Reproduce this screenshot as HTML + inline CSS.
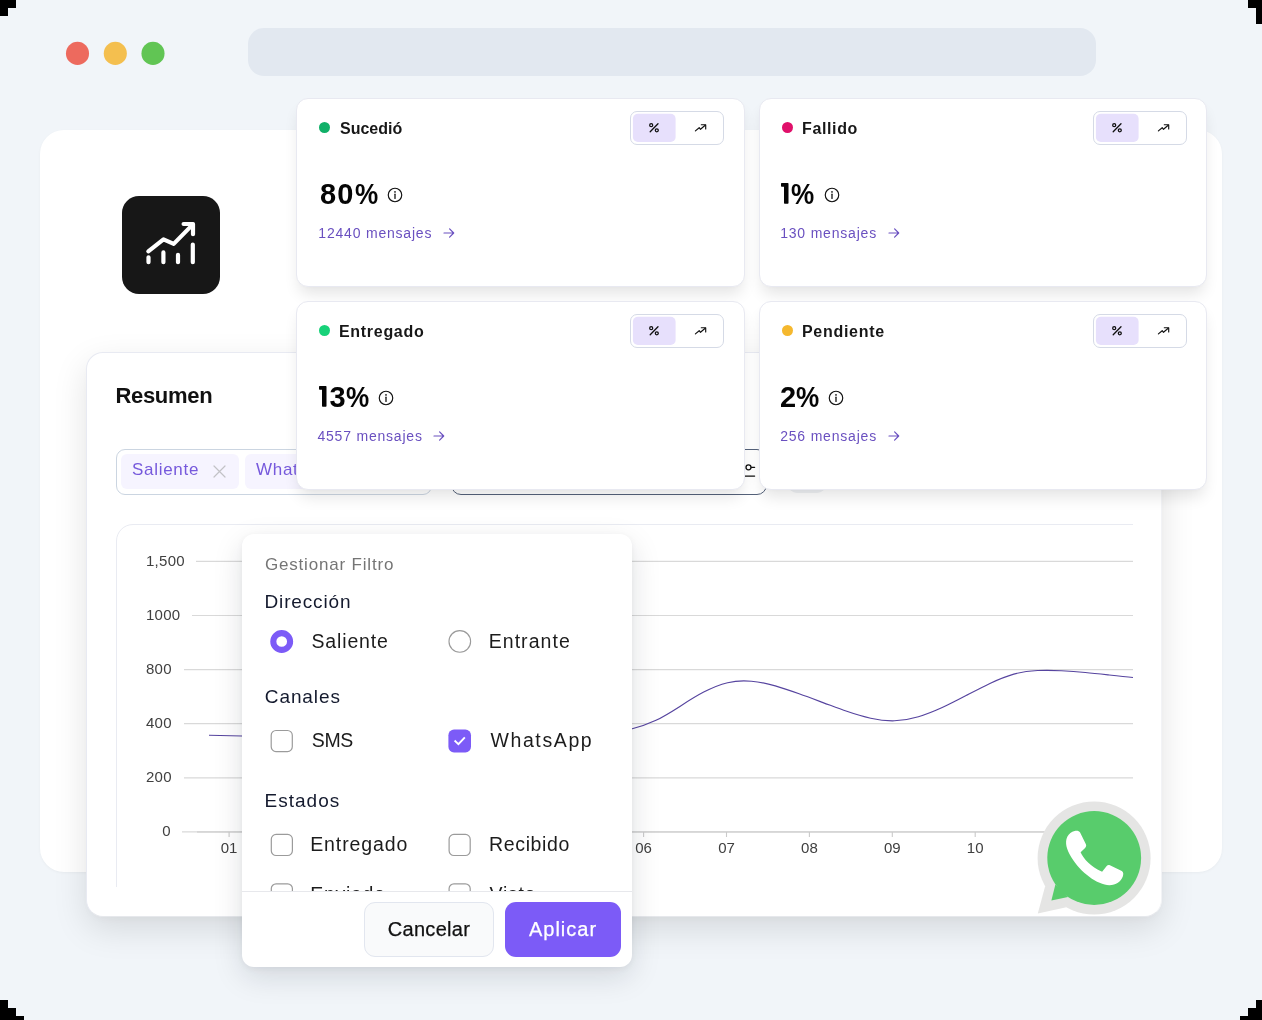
<!DOCTYPE html>
<html lang="es">
<head>
<meta charset="utf-8">
<title>Resumen</title>
<style>
*{box-sizing:border-box;margin:0;padding:0}
html,body{width:1262px;height:1020px;overflow:hidden;background:#f1f5f9}
body{font-family:"Liberation Sans",sans-serif;color:#0f172a;position:relative}
.abs{position:absolute}
#stage{will-change:transform;position:absolute;left:0;top:0;width:1262px;height:1020px;overflow:hidden;background:#f1f5f9}
.blk{position:absolute;background:#000}
.dot{position:absolute;width:24px;height:24px;border-radius:50%;top:41px}
#url{position:absolute;left:248px;top:28px;width:848px;height:48px;border-radius:16px;background:#e2e8f0}
#main{position:absolute;left:40px;top:130px;width:1182px;height:742px;border-radius:24px;background:#fff;box-shadow:0 1px 3px rgba(0,0,0,.04)}
#logo{position:absolute;left:122px;top:196px;width:98px;height:98px;border-radius:17px;background:#171717}
#resumen{position:absolute;left:86px;top:352px;width:1076px;height:565px;border-radius:17px;background:#fff;border:1px solid #e8eaf2;border-right-color:#f2f3f6;border-bottom-color:#e6e8ec;box-shadow:0 12px 34px rgba(0,0,0,.115),0 4px 10px -4px rgba(0,0,0,.04)}
#resumen h2{position:absolute;left:28.4px;top:31px;font-size:22px;font-weight:700;color:#111;letter-spacing:-.3px;line-height:24px;white-space:nowrap}
#finput{position:absolute;left:116px;top:449px;width:316px;height:46px;border-radius:9px;border:1px solid #cbd5e1;background:#fff}
.chip{position:absolute;top:454px;height:35px;border-radius:6px;background:#f6f4ff;color:#7659dc;font-size:17px;letter-spacing:.7px;line-height:32px;white-space:nowrap}
#fbox2{position:absolute;left:451px;top:449px;width:316px;height:46px;border-radius:10px;border:1.4px solid #55627a;background:#fff}
#clip{position:absolute;left:116px;top:520px;width:1017px;height:367px;overflow:hidden}
#chartpanel{position:absolute;left:0;top:4px;width:1100px;height:420px;border:1px solid #e9ebf2;border-radius:17px;background:#fff}
.card{position:absolute;width:448px;height:189px;border-radius:12px;background:#fff;border:1px solid #e8e9f1;box-shadow:0 10px 15px -3px rgba(0,0,0,.105),0 3px 5px -4px rgba(0,0,0,.04)}
.card .sd{position:absolute;left:22px;top:23px;width:11px;height:11px;border-radius:50%}
.card .tt{position:absolute;left:43px;top:20px;font-size:16px;font-weight:700;line-height:20px;color:#171717;white-space:nowrap}
.card .tg{position:absolute;left:333px;top:12px;width:94px;height:34px;border:1px solid #d5dae6;border-radius:7px;background:#fff}
.card .big{position:absolute;left:21px;top:78px;font-size:29px;font-weight:700;line-height:34px;color:#050505;white-space:nowrap}
.card .big .info{position:relative;margin-left:9px;top:-.6px;vertical-align:baseline}
.card .big .one{margin-right:2.6px;vertical-align:baseline}
.card .big .pc{display:inline-block;width:23.2px;height:30px;vertical-align:baseline}
.card .big .pc span{display:inline-block;transform:scaleX(.9);transform-origin:0 50%}
.card .lnk .arr{margin-left:10.6px;position:relative;top:-.4px}
.card .lnk{position:absolute;left:20px;top:125px;font-size:14px;letter-spacing:.8px;line-height:18px;color:#6a50c0;white-space:nowrap}
#popup{position:absolute;left:242px;top:534px;width:390px;height:433px;border-radius:12px;background:#fff;box-shadow:0 10px 30px rgba(15,23,42,.13),0 2px 6px rgba(15,23,42,.05);overflow:hidden}
#popup .body{position:absolute;left:0;top:0;width:390px;height:357px;overflow:hidden}
#popup .sep{position:absolute;left:0;top:357px;width:390px;height:1px;background:#e7e8ec}
.pt{position:absolute;left:23px;white-space:nowrap}
.ph{font-size:20px;line-height:24px;color:#141a2e}
.pl{position:absolute;font-size:20.5px;line-height:24px;color:#1a1a1a;white-space:nowrap}
.cb{position:absolute;width:24px;height:24px;border-radius:6px;border:1.5px solid #8a8a8a;background:#fff}
.btn{position:absolute;top:368px;height:55px;border-radius:11px;font-size:20px;line-height:53px;text-align:center;white-space:nowrap;-webkit-text-stroke:.25px currentColor}
</style>
</head>
<body>
<div id="stage">
  <!-- traffic lights + url -->
  <svg class="abs" style="left:60px;top:36px" width="112" height="36" viewBox="60 36 112 36"><circle cx="77.5" cy="53.4" r="11.55" fill="#ed6a5e"/><circle cx="115.3" cy="53.4" r="11.55" fill="#f4bf4f"/><circle cx="153" cy="53.4" r="11.55" fill="#61c554"/></svg>
  <div id="url"></div>

  <div id="main"></div>
  <div id="logo">
    <svg class="abs" style="left:0;top:0" width="98" height="98" viewBox="122 196 98 98" fill="none" stroke="#fff" stroke-width="4.2" stroke-linecap="round" stroke-linejoin="round">
      <path d="M148.3 251.3 L163.5 239.4 L173.7 243.9 L192.6 224.6"/>
      <path d="M183.6 224 H193 V234.2"/>
      <path d="M148.5 257.3 V262.2 M163.4 252.4 V262.2 M178 254.8 V262.2 M192.8 244.6 V262.2"/>
    </svg>
  </div>

  <div id="resumen"><h2>Resumen</h2></div>
  <div id="finput"></div>
  <div class="chip" style="left:121px;width:118px;padding-left:11px">Saliente<svg class="abs" style="left:92px;top:11px" width="13" height="13" viewBox="0 0 13 13" fill="none" stroke="#c2c2c6" stroke-width="1.2" stroke-linecap="round"><path d="M1 1 L12 12 M12 1 L1 12"/></svg></div>
  <div class="chip" style="left:245px;width:140px;padding-left:11px">WhatsApp</div>
  <div id="fbox2"></div>
  <svg class="abs" style="left:736px;top:460px" width="24" height="24" viewBox="736 460 24 24" fill="none" stroke="#111" stroke-width="1.3" stroke-linecap="round"><circle cx="748.5" cy="467.3" r="2.5"/><path d="M751.4 467.3 H754.6 M738 476.1 H754.6"/></svg>
  <div class="abs" style="left:788px;top:466px;width:38px;height:27px;border-radius:9px;background:#eff1f4"></div>

  <div id="clip"><div id="chartpanel"></div></div>
  <svg id="chart" class="abs" style="left:0;top:0" width="1262" height="1020" viewBox="0 0 1262 1020">
<g stroke="#d9d9d9" stroke-width="1.2" fill="none">
<path d="M196 561.4 H1133"/>
<path d="M192 615.5 H1133"/>
<path d="M184 669.6 H1133"/>
<path d="M184 723.7 H1133"/>
<path d="M184 777.8 H1133"/>
<path d="M182 831.9 H1133"/>
</g>
<g stroke="#cacaca" stroke-width="1.2" fill="none"><path d="M197 832 H1133"/>
<path d="M229.1 832 V837" stroke-width="1.1"/>
<path d="M312.0 832 V837" stroke-width="1.1"/>
<path d="M394.9 832 V837" stroke-width="1.1"/>
<path d="M477.8 832 V837" stroke-width="1.1"/>
<path d="M560.7 832 V837" stroke-width="1.1"/>
<path d="M643.6 832 V837" stroke-width="1.1"/>
<path d="M726.5 832 V837" stroke-width="1.1"/>
<path d="M809.4 832 V837" stroke-width="1.1"/>
<path d="M892.3 832 V837" stroke-width="1.1"/>
<path d="M975.2 832 V837" stroke-width="1.1"/>
<path d="M1058.1 832 V837" stroke-width="1.1"/>
</g>
<g font-family="Liberation Sans, sans-serif" font-size="15" fill="#404040">
<text x="145.9" y="565.6" letter-spacing=".3">1,500</text>
<text x="145.9" y="619.7" letter-spacing=".3">1000</text>
<text x="145.9" y="673.8" letter-spacing=".3">800</text>
<text x="145.9" y="727.9" letter-spacing=".3">400</text>
<text x="145.9" y="782.0" letter-spacing=".3">200</text>
<text x="162.2" y="835.6">0</text>
<text x="229.1" y="852.7" text-anchor="middle">01</text>
<text x="312.0" y="852.7" text-anchor="middle">02</text>
<text x="394.9" y="852.7" text-anchor="middle">03</text>
<text x="477.8" y="852.7" text-anchor="middle">04</text>
<text x="560.7" y="852.7" text-anchor="middle">05</text>
<text x="643.6" y="852.7" text-anchor="middle">06</text>
<text x="726.5" y="852.7" text-anchor="middle">07</text>
<text x="809.4" y="852.7" text-anchor="middle">08</text>
<text x="892.3" y="852.7" text-anchor="middle">09</text>
<text x="975.2" y="852.7" text-anchor="middle">10</text>
<text x="1058.1" y="852.7" text-anchor="middle">11</text>
</g>
<path d="M209 735.2 C220 735.5 231 735.8 242 736 C330 738 420 760 520 752 C570 748 600 738 632.2 728.7 C640.1 726.8 648.1 724.0 656.0 720.3 C664.0 716.5 671.9 711.5 679.9 706.4 C687.8 701.3 695.8 696.2 703.7 692.1 C711.7 687.9 719.6 684.6 727.6 682.7 C735.5 680.8 743.5 680.5 751.4 681.2 C759.4 681.9 767.3 683.6 775.3 685.9 C783.2 688.2 791.2 691.0 799.1 693.8 C807.1 696.6 815.0 699.6 823.0 702.6 C830.9 705.5 838.9 708.6 846.8 711.3 C854.8 714.1 862.7 716.5 870.7 718.2 C878.6 720.0 886.6 721.0 894.5 720.8 C902.5 720.5 910.4 719.1 918.4 716.7 C926.3 714.4 934.3 711.1 942.2 707.5 C950.2 703.8 958.1 699.7 966.1 695.5 C974.0 691.4 982.0 687.2 989.9 683.4 C997.9 679.7 1005.8 676.4 1013.8 674.1 C1021.7 671.9 1029.7 670.9 1037.6 670.5 C1045.6 670.2 1053.5 670.3 1061.5 670.7 C1069.4 671.1 1077.4 671.7 1085.3 672.5 C1093.3 673.2 1101.2 674.1 1109.2 675.0 C1117.1 675.9 1125.1 676.8 1133.0 677.5" fill="none" stroke="#56449f" stroke-width="1.15"/>
</svg>

  <div id="cards">
  <div class="card" style="left:296px;top:98px;width:449px">
    <div class="sd" style="background:#10b068"></div>
    <div class="tt" style="left:43px;letter-spacing:0px">Sucedió</div>
    <div class="tg">
      <svg class="abs" style="left:0;top:0" width="92" height="32" viewBox="631 112 92 32" fill="none" stroke="#111" stroke-width="1.3" stroke-linecap="round" stroke-linejoin="round">
        <rect x="632.9" y="113.8" width="42.7" height="28.2" rx="5" fill="#e7e0fc" stroke="none"/>
        <circle cx="651.2" cy="125.2" r="1.5"/><circle cx="656.8" cy="130.3" r="1.5"/><path d="M658 123.8 L650.2 131.7"/>
        <path d="M695.4 130.9 L699.2 127.7 L700.5 129.3 L705.2 125.2" stroke-width="1.15"/><path d="M701.3 124.7 H705.7 V129" stroke-width="1.15"/>
      </svg>
    </div>
    <div class="big" style="left:23.0px"><span style="letter-spacing:1.2px">80</span><span class="pc"><span>%</span></span><svg class="info" width="16" height="16" viewBox="0 0 16 16" fill="none" stroke="#111" stroke-width="1.15"><circle cx="8" cy="8" r="6.75"/><path d="M8 7.2 V11.4" stroke-linecap="round" stroke-width="1.3"/><circle cx="8" cy="4.9" r=".55" fill="#111" stroke-width=".6"/></svg></div>
    <div class="lnk" style="left:21.3px">12440 mensajes<svg class="arr" width="12" height="10" viewBox="0 0 12 10" fill="none" stroke="#6a50c0" stroke-width="1.2" stroke-linecap="round" stroke-linejoin="round"><path d="M1 5 H10.6 M6.6 .9 L10.7 5 L6.6 9.1"/></svg></div>
  </div>
  <div class="card" style="left:759px;top:98px;width:448px">
    <div class="sd" style="background:#e0106a"></div>
    <div class="tt" style="left:42px;letter-spacing:0.63px">Fallido</div>
    <div class="tg">
      <svg class="abs" style="left:0;top:0" width="92" height="32" viewBox="631 112 92 32" fill="none" stroke="#111" stroke-width="1.3" stroke-linecap="round" stroke-linejoin="round">
        <rect x="632.9" y="113.8" width="42.7" height="28.2" rx="5" fill="#e7e0fc" stroke="none"/>
        <circle cx="651.2" cy="125.2" r="1.5"/><circle cx="656.8" cy="130.3" r="1.5"/><path d="M658 123.8 L650.2 131.7"/>
        <path d="M695.4 130.9 L699.2 127.7 L700.5 129.3 L705.2 125.2" stroke-width="1.15"/><path d="M701.3 124.7 H705.7 V129" stroke-width="1.15"/>
      </svg>
    </div>
    <div class="big" style="left:20.9px"><svg class="one" width="8" height="21" viewBox="0 0 8 21"><path d="M0 .7 Q0 0 .7 0 H6.8 Q7.5 0 7.5 .7 V20.1 Q7.5 20.8 6.8 20.8 H3.7 Q3 20.8 3 20.1 V3.7 H.7 Q0 3.7 0 3 Z" fill="#050505"/></svg><span class="pc"><span>%</span></span><svg class="info" width="16" height="16" viewBox="0 0 16 16" fill="none" stroke="#111" stroke-width="1.15"><circle cx="8" cy="8" r="6.75"/><path d="M8 7.2 V11.4" stroke-linecap="round" stroke-width="1.3"/><circle cx="8" cy="4.9" r=".55" fill="#111" stroke-width=".6"/></svg></div>
    <div class="lnk" style="left:20.2px">130 mensajes<svg class="arr" width="12" height="10" viewBox="0 0 12 10" fill="none" stroke="#6a50c0" stroke-width="1.2" stroke-linecap="round" stroke-linejoin="round"><path d="M1 5 H10.6 M6.6 .9 L10.7 5 L6.6 9.1"/></svg></div>
  </div>
  <div class="card" style="left:296px;top:301px;width:449px">
    <div class="sd" style="background:#17d279"></div>
    <div class="tt" style="left:42px;letter-spacing:0.7px">Entregado</div>
    <div class="tg">
      <svg class="abs" style="left:0;top:0" width="92" height="32" viewBox="631 112 92 32" fill="none" stroke="#111" stroke-width="1.3" stroke-linecap="round" stroke-linejoin="round">
        <rect x="632.9" y="113.8" width="42.7" height="28.2" rx="5" fill="#e7e0fc" stroke="none"/>
        <circle cx="651.2" cy="125.2" r="1.5"/><circle cx="656.8" cy="130.3" r="1.5"/><path d="M658 123.8 L650.2 131.7"/>
        <path d="M695.4 130.9 L699.2 127.7 L700.5 129.3 L705.2 125.2" stroke-width="1.15"/><path d="M701.3 124.7 H705.7 V129" stroke-width="1.15"/>
      </svg>
    </div>
    <div class="big" style="left:21.9px"><svg class="one" width="8" height="21" viewBox="0 0 8 21"><path d="M0 .7 Q0 0 .7 0 H6.8 Q7.5 0 7.5 .7 V20.1 Q7.5 20.8 6.8 20.8 H3.7 Q3 20.8 3 20.1 V3.7 H.7 Q0 3.7 0 3 Z" fill="#050505"/></svg>3<span class="pc"><span>%</span></span><svg class="info" width="16" height="16" viewBox="0 0 16 16" fill="none" stroke="#111" stroke-width="1.15"><circle cx="8" cy="8" r="6.75"/><path d="M8 7.2 V11.4" stroke-linecap="round" stroke-width="1.3"/><circle cx="8" cy="4.9" r=".55" fill="#111" stroke-width=".6"/></svg></div>
    <div class="lnk" style="left:20.4px">4557 mensajes<svg class="arr" width="12" height="10" viewBox="0 0 12 10" fill="none" stroke="#6a50c0" stroke-width="1.2" stroke-linecap="round" stroke-linejoin="round"><path d="M1 5 H10.6 M6.6 .9 L10.7 5 L6.6 9.1"/></svg></div>
  </div>
  <div class="card" style="left:759px;top:301px;width:448px">
    <div class="sd" style="background:#f5b82e"></div>
    <div class="tt" style="left:42px;letter-spacing:0.7px">Pendiente</div>
    <div class="tg">
      <svg class="abs" style="left:0;top:0" width="92" height="32" viewBox="631 112 92 32" fill="none" stroke="#111" stroke-width="1.3" stroke-linecap="round" stroke-linejoin="round">
        <rect x="632.9" y="113.8" width="42.7" height="28.2" rx="5" fill="#e7e0fc" stroke="none"/>
        <circle cx="651.2" cy="125.2" r="1.5"/><circle cx="656.8" cy="130.3" r="1.5"/><path d="M658 123.8 L650.2 131.7"/>
        <path d="M695.4 130.9 L699.2 127.7 L700.5 129.3 L705.2 125.2" stroke-width="1.15"/><path d="M701.3 124.7 H705.7 V129" stroke-width="1.15"/>
      </svg>
    </div>
    <div class="big" style="left:20.1px">2<span class="pc"><span>%</span></span><svg class="info" width="16" height="16" viewBox="0 0 16 16" fill="none" stroke="#111" stroke-width="1.15"><circle cx="8" cy="8" r="6.75"/><path d="M8 7.2 V11.4" stroke-linecap="round" stroke-width="1.3"/><circle cx="8" cy="4.9" r=".55" fill="#111" stroke-width=".6"/></svg></div>
    <div class="lnk" style="left:20.2px">256 mensajes<svg class="arr" width="12" height="10" viewBox="0 0 12 10" fill="none" stroke="#6a50c0" stroke-width="1.2" stroke-linecap="round" stroke-linejoin="round"><path d="M1 5 H10.6 M6.6 .9 L10.7 5 L6.6 9.1"/></svg></div>
  </div>
  </div>
  <div id="popup">
    <div class="body">
      <svg class="abs" style="left:0;top:0" width="390" height="357" viewBox="0 0 390 357">
        <circle cx="39.7" cy="107.5" r="8.4" fill="#fff" stroke="#7c5bf7" stroke-width="6.1"/>
        <circle cx="217.8" cy="107.4" r="10.8" fill="#fff" stroke="#9b9b9b" stroke-width="1.15"/>
        <rect x="29.2" y="196.5" width="21.1" height="21.1" rx="4.8" fill="#fff" stroke="#9b9b9b" stroke-width="1.2"/>
        <rect x="206.4" y="195.6" width="22.6" height="22.8" rx="5.6" fill="#7c5bf7"/><path d="M213.3 207.2 l3.1 3 l5.8 -6.2" fill="none" stroke="#fff" stroke-width="1.9" stroke-linecap="square" stroke-linejoin="miter"/>
        <rect x="29.3" y="300.4" width="21.1" height="21.1" rx="4.8" fill="#fff" stroke="#9b9b9b" stroke-width="1.2"/>
        <rect x="207.1" y="300.4" width="21.1" height="21.1" rx="4.8" fill="#fff" stroke="#9b9b9b" stroke-width="1.2"/>
        <rect x="29.3" y="349.8" width="21.1" height="21.1" rx="4.8" fill="#fff" stroke="#9b9b9b" stroke-width="1.2"/>
        <rect x="207.1" y="349.8" width="21.1" height="21.1" rx="4.8" fill="#fff" stroke="#9b9b9b" stroke-width="1.2"/>
      </svg>
      <div class="pt" style="left:22.9px;top:18.81px;font-size:17px;line-height:24px;letter-spacing:0.82px;color:#757575">Gestionar Filtro</div>
      <div class="pt" style="left:22.5px;top:55.82px;font-size:19px;line-height:24px;letter-spacing:0.85px;color:#141a2e">Dirección</div>
      <div class="pt" style="left:69.5px;top:94.94px;font-size:19.5px;line-height:24px;letter-spacing:0.85px;color:#1c1c1c">Saliente</div>
      <div class="pt" style="left:246.7px;top:94.94px;font-size:19.5px;line-height:24px;letter-spacing:1.05px;color:#1c1c1c">Entrante</div>
      <div class="pt" style="left:22.8px;top:151.22px;font-size:19px;line-height:24px;letter-spacing:0.9px;color:#141a2e">Canales</div>
      <div class="pt" style="left:69.8px;top:194.04px;font-size:19.5px;line-height:24px;letter-spacing:-0.4px;color:#1c1c1c">SMS</div>
      <div class="pt" style="left:248.4px;top:194.04px;font-size:19.5px;line-height:24px;letter-spacing:1.62px;color:#1c1c1c">WhatsApp</div>
      <div class="pt" style="left:22.6px;top:255.22px;font-size:19px;line-height:24px;letter-spacing:1.0px;color:#141a2e">Estados</div>
      <div class="pt" style="left:68.2px;top:298.24px;font-size:19.5px;line-height:24px;letter-spacing:0.9px;color:#1c1c1c">Entregado</div>
      <div class="pt" style="left:247.0px;top:298.24px;font-size:19.5px;line-height:24px;letter-spacing:0.65px;color:#1c1c1c">Recibido</div>
      <div class="pt" style="left:68.2px;top:347.54px;font-size:19.5px;line-height:24px;letter-spacing:0.7px;color:#1c1c1c">Enviado</div>
      <div class="pt" style="left:247.6px;top:347.54px;font-size:19.5px;line-height:24px;letter-spacing:0.7px;color:#1c1c1c">Visto</div>
    </div>
    <div class="sep"></div>
    <div class="btn" style="left:122px;width:130px;background:#f9fafb;border:1px solid #e2e6ef;color:#111;letter-spacing:.3px">Cancelar</div>
    <div class="btn" style="left:263px;width:116px;background:#7c5bf7;color:#fff;letter-spacing:1px;line-height:55px">Aplicar</div>
  </div>
  <svg id="wa" class="abs" style="left:1030px;top:795px" width="130" height="126" viewBox="1030 795 130 126">
    <path d="M1037.8 913.6 L1045.2 886 L1066.4 907.2 Z" fill="#e5e5e4"/><circle cx="1094.1" cy="858" r="56.5" fill="#e5e5e4"/>
    <path d="M1051.4 900.4 L1055.4 884.6 L1068 897 Z" fill="#58cc6c"/><circle cx="1094.2" cy="858" r="46.9" fill="#58cc6c"/>
    <path d="M1074.6 830.9 C1077.2 830.4 1079.2 830.9 1080.1 832.6 L1085.9 844.3 C1086.5 845.7 1086.1 846.9 1085.1 847.9 L1080.6 852.2 C1083.5 858.5 1090.5 866.8 1102.1 871.8 L1106.7 866 C1107.5 864.9 1108.7 864.6 1109.9 865.2 L1121.8 870.9 C1123.5 871.9 1123.6 874 1122.8 876.6 C1121 881.6 1116 885.1 1109.4 885.2 C1097.5 885 1080.5 872.5 1071.3 857.3 C1066.5 849.5 1064.6 842.5 1067.3 836.8 C1068.9 833.6 1071.5 831.5 1074.6 830.9 Z" fill="#fff"/>
  </svg>

  <!-- jpeg-ish black corner blocks -->
  <div class="blk" style="left:0;top:0;width:16px;height:8px"></div>
  <div class="blk" style="left:0;top:8px;width:8px;height:8px"></div>
  <div class="blk" style="left:1248px;top:0;width:14px;height:8px"></div>
  <div class="blk" style="left:1256px;top:8px;width:6px;height:16px"></div>
  <div class="blk" style="left:0;top:1000px;width:8px;height:20px"></div>
  <div class="blk" style="left:8px;top:1008px;width:8px;height:12px"></div>
  <div class="blk" style="left:16px;top:1016px;width:8px;height:4px"></div>
  <div class="blk" style="left:1256px;top:1000px;width:6px;height:20px"></div>
  <div class="blk" style="left:1248px;top:1008px;width:8px;height:12px"></div>
  <div class="blk" style="left:1240px;top:1016px;width:8px;height:4px"></div>
</div>
</body>
</html>
